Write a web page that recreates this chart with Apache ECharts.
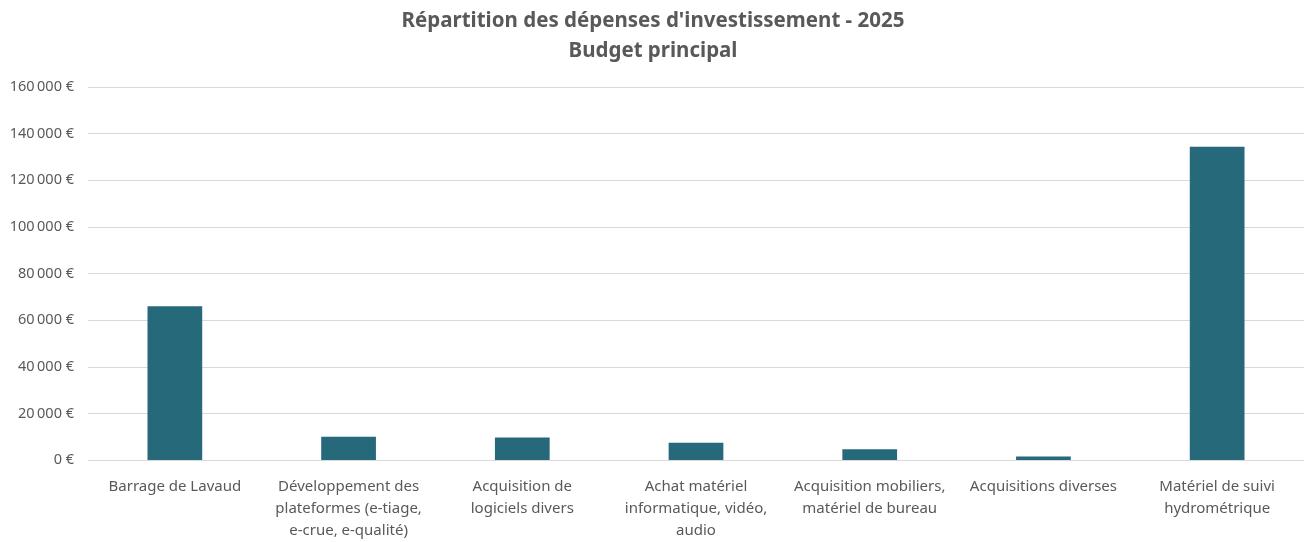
<!DOCTYPE html>
<html>
<head>
<meta charset="utf-8">
<script src="https://cdn.jsdelivr.net/npm/echarts@6/dist/echarts.min.js"></script>
<style>
  html, body { margin: 0; padding: 0; background: #fff; }
  #chart { width: 1306px; height: 542px; }
</style>
</head>
<body>
<div id="chart"></div>
<script>
// catégories (retours à la ligne comme dans le tableur)
const categories = [
  'Barrage de Lavaud',
  'Développement des\nplateformes (e-tiage,\ne-crue, e-qualité)',
  'Acquisition de\nlogiciels divers',
  'Achat matériel\ninformatique, vidéo,\naudio',
  'Acquisition mobiliers,\nmatériel de bureau',
  'Acquisitions diverses',
  'Matériel de suivi\nhydrométrique'
];
// montants en euros
const montants = [66000, 10000, 9600, 7400, 4600, 1500, 134400];
const yTicks = [0, 20000, 40000, 60000, 80000, 100000, 120000, 140000, 160000];

const textColor = '#595959';
const fontName = 'Noto Sans';

function formatEuro(v) {
  // séparateur de milliers : espace
  return String(v).replace(/\B(?=(\d{3})+(?!\d))/g, '\u202f') + ' €';
}

const myChart = echarts.init(document.getElementById('chart'));
const option = {
  animation: false,
  title: {
    text: "Répartition des dépenses d'investissement - 2025\nBudget principal",
    left: 'center',
    top: 1,
    textStyle: {
      fontFamily: fontName,
      fontSize: 20.5,
      fontWeight: 'bold',
      color: textColor,
      lineHeight: 30
    }
  },
  grid: {
    left: 88,
    right: 2,
    top: 87,
    bottom: 79
  },
  xAxis: {
    type: 'category',
    data: categories,
    axisLine: { show: true, lineStyle: { color: '#d9d9d9', width: 1 } },
    axisTick: { show: false },
    axisLabel: {
      interval: 0,
      margin: 16,
      fontFamily: fontName,
      fontSize: 15,
      lineHeight: 22,
      color: textColor,
      align: 'center'
    }
  },
  yAxis: {
    type: 'value',
    min: yTicks[0],
    max: yTicks[yTicks.length - 1],
    interval: yTicks[1] - yTicks[0],
    axisLine: { show: false },
    axisTick: { show: false },
    splitLine: { lineStyle: { color: '#d9d9d9', width: 1 } },
    axisLabel: {
      margin: 14,
      fontFamily: fontName,
      fontSize: 14.5,
      color: textColor,
      formatter: formatEuro
    }
  },
  series: [
    {
      type: 'bar',
      data: montants,
      barWidth: '31.5%',
      itemStyle: { color: '#26697a' }
    }
  ]
};
myChart.setOption(option);
</script>
</body>
</html>
